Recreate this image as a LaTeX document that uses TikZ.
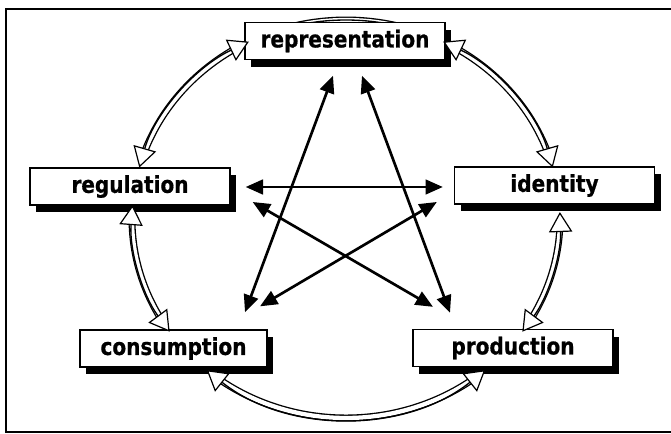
\documentclass[tikz,border=0pt]{standalone}
\usepackage{fontspec}
\newfontfamily\lblfont{DejaVu Sans}[FakeStretch=0.86, BoldFeatures={FakeBold=0.7}]
\usetikzlibrary{arrows.meta,shadows,calc}
\tikzset{
  ringhead/.tip={Triangle[length=15pt,width=17.5pt,fill=white,line width=0.9pt]},
  crosshead/.tip={Triangle[length=13pt,width=11pt]},
  box/.style={draw=black, line width=1pt, fill=white, minimum width=150pt,
    minimum height=27.75pt, inner sep=0pt,
    font=\lblfont\bfseries\fontsize{17.5}{20}\selectfont,
    drop shadow={shadow xshift=4.5pt, shadow yshift=-5.5pt, fill=black, opacity=1}},
  ringouter/.style={line width=5.2pt, draw=black},
  ringwhite/.style={line width=3.2pt, draw=white},
  ringinner/.style={line width=1pt, draw=black},
  cross/.style={line width=2pt, crosshead-crosshead},
  frameline/.style={line width=1.6pt}
}
\newcommand\ringlayer[3]{%
  \draw[#1] (346,219) ++(#2:214 and 199) arc[start angle=#2, end angle=#3, x radius=214, y radius=199];}
\newcommand\ringarc[2]{%
  \pgfmathsetmacro\rga{#1+3}\pgfmathsetmacro\rgb{#2-3}%
  \ringlayer{ringouter}{\rga}{\rgb}%
  \ringlayer{ringwhite}{\rga}{\rgb}%
  \ringlayer{ringinner,ringhead-ringhead}{#1}{#2}}
\begin{document}
\begin{tikzpicture}[x=0.75pt,y=-0.75pt]
\useasboundingbox (0,0) rectangle (671,434);
% frame
\draw[frameline] (671,9) -- (6,9) -- (6,432) -- (671,432);
% hidden piece of the ring behind "representation"
\ringlayer{ringouter}{248}{292}
\ringlayer{ringwhite}{248}{292}
\ringlayer{ringinner}{248}{292}
% nodes
\node[box] (rep)  at (345,41)    {representation};
\node[box] (reg)  at (130,186.5) {regulation};
\node[box] (id)   at (554.5,185.5) {identity};
\node[box, minimum width=140.25pt] (cons) at (173.5,348.5) {consumption};
\node[box] (prod) at (513,348)   {production};
% ring arcs with open heads
\ringarc{195}{243}
\ringarc{297}{345}
\ringarc{-2}{34.5}
\ringarc{49.4}{130.6}
\ringarc{145.5}{184}
% cross connectors
\coordinate (hL)  at ($(reg.east)+(15,0.5)$);
\coordinate (hR)  at ($(id.west)+(-11,1.5)$);
\coordinate (gpT) at ($(reg.east)+(22,15.5)$);
\coordinate (gpB) at ($(prod.north)+(-80,-22)$);
\coordinate (icT) at ($(id.west)+(-17,16.5)$);
\coordinate (icB) at ($(cons.north)+(86.5,-23)$);
\coordinate (rcT) at ($(rep.south)+(-12,15.5)$);
\coordinate (rcB) at ($(cons.north)+(71.5,-17)$);
\coordinate (rpT) at ($(rep.south)+(17,15.5)$);
\coordinate (rpB) at ($(prod.north)+(-63,-16)$);
\draw[cross] (hL) -- (hR);
\draw[cross] (gpT) -- (gpB);
\draw[cross] (icT) -- (icB);
\draw[cross] (rcT) -- (rcB);
\draw[cross] (rpT) -- (rpB);
\end{tikzpicture}
\end{document}
